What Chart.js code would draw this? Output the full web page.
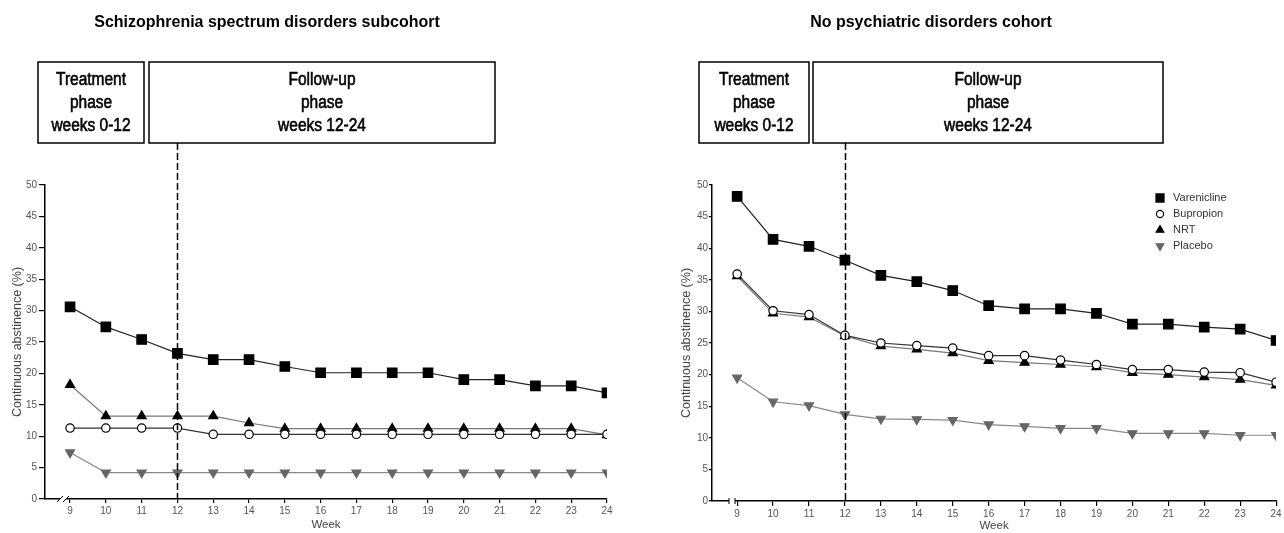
<!DOCTYPE html>
<html>
<head>
<meta charset="utf-8">
<script src="https://cdn.jsdelivr.net/npm/chart.js@4.4.1/dist/chart.umd.min.js"></script>
<style>
    body { margin:0; background:#fff; }
    #wrap { position:relative; width:1284px; height:533px; }
    canvas { position:absolute; top:0; }
</style>
</head>
<body>
<div id="wrap">
    <canvas id="chartSchizo" width="642" height="533" style="left:0"></canvas>
    <canvas id="chartNoPsych" width="642" height="533" style="left:642px"></canvas>
</div>
<script>
// weeks on the x axis
var weeks       =   [9, 10, 11, 12, 13, 14, 15, 16, 17, 18, 19, 20, 21, 22, 23, 24];
var yTicks      =   [0, 5, 10, 15, 20, 25, 30, 35, 40, 45, 50];
var seriesNames =   ['Varenicline', 'Bupropion', 'NRT', 'Placebo'];

// schizophrenia spectrum disorders subcohort
var schizoVarenicline   =   [30.6, 27.4, 25.4, 23.2, 22.2, 22.2, 21.1, 20.1, 20.1, 20.1, 20.1, 19.0, 19.0, 18.0, 18.0, 16.9];
var schizoBupropion     =   [11.3, 11.3, 11.3, 11.3, 10.3, 10.3, 10.3, 10.3, 10.3, 10.3, 10.3, 10.3, 10.3, 10.3, 10.3, 10.3];
var schizoNRT           =   [18.2, 13.2, 13.2, 13.2, 13.2, 12.1, 11.2, 11.2, 11.2, 11.2, 11.2, 11.2, 11.2, 11.2, 11.2, 10.2];
var schizoPlacebo       =   [7.4, 4.2, 4.2, 4.2, 4.2, 4.2, 4.2, 4.2, 4.2, 4.2, 4.2, 4.2, 4.2, 4.2, 4.2, 4.2];

// no psychiatric disorders cohort
var noPsychVarenicline  =   [48.2, 41.4, 40.3, 38.1, 35.7, 34.7, 33.3, 30.9, 30.4, 30.4, 29.7, 28.0, 28.0, 27.5, 27.2, 25.4];
var noPsychBupropion    =   [35.9, 30.1, 29.5, 26.2, 25.0, 24.6, 24.2, 23.0, 23.0, 22.3, 21.6, 20.8, 20.8, 20.4, 20.3, 18.8];
var noPsychNRT          =   [35.6, 29.7, 29.1, 26.1, 24.5, 24.0, 23.4, 22.2, 21.9, 21.6, 21.2, 20.3, 20.0, 19.6, 19.2, 18.3];
var noPsychPlacebo      =   [19.5, 15.7, 15.1, 13.7, 13.0, 12.9, 12.8, 12.1, 11.8, 11.5, 11.5, 10.7, 10.7, 10.7, 10.4, 10.4];

var SANS    =   '"Liberation Sans", Arial, sans-serif';

// marker look per series
var styles = [
    { pointStyle:'rect',     radius:6.7, fill:'#000', stroke:'#000', line:'#222', rot:0 },
    { pointStyle:'circle',   radius:4.2, fill:'#fff', stroke:'#000', line:'#333', rot:0 },
    { pointStyle:'triangle', radius:5.2, fill:'#000', stroke:'#000', line:'#777', rot:0 },
    { pointStyle:'triangle', radius:5.2, fill:'#666', stroke:'#666', line:'#888', rot:180 }
];

function makeDatasets(series) {
    return series.map(function (vals, k) {
        var st = styles[k];
        return {
            label               :   seriesNames[k],
            data                :   weeks.map((w, i) => ({ x: w, y: vals[i] })),
            borderColor         :   st.line,
            borderWidth         :   1.2,
            pointStyle          :   st.pointStyle,
            pointRadius         :   st.radius,
            pointHoverRadius    :   st.radius,
            pointRotation       :   st.rot,
            pointBackgroundColor:   st.fill,
            pointBorderColor    :   st.stroke,
            pointBorderWidth    :   1.2,
            tension             :   0
        };
    });
}

// condensed text (no narrow font installed, so squeeze horizontally)
function narrowText(ctx, text, x, y, sx, thick) {
    ctx.save();
    ctx.translate(x, y);
    ctx.scale(sx, 1);
    ctx.fillText(text, 0, 0);
    if (thick) {
        ctx.lineWidth = thick;
        ctx.strokeText(text, 0, 0);
    }
    ctx.restore();
}

var decorPlugin = {
    id: 'decor',
    beforeDraw(chart, args, o) {
        var ctx = chart.ctx;
        ctx.save();
        ctx.fillStyle = '#000';
        ctx.textAlign = 'center';
        ctx.textBaseline = 'middle';
        ctx.font = 'bold 17px ' + SANS;
        narrowText(ctx, o.title, o.titleX, 22, 0.94, 0);

        ctx.strokeStyle = '#000';
        ctx.lineWidth = 1.5;
        o.boxes.forEach(function (b) {
            ctx.strokeRect(b.x0, 62, b.x1 - b.x0, 81);
        });
        ctx.font = '18px ' + SANS;
        o.boxes.forEach(function (b) {
            var cx = (b.x0 + b.x1) / 2;
            b.lines.forEach(function (t, i) {
                narrowText(ctx, t, cx, 80 + i * 23, 0.86, 0.6);
            });
        });
        ctx.restore();
    },
    afterDatasetsDraw(chart, args, o) {
        var ctx = chart.ctx;
        var xs = chart.scales.x;
        var area = chart.chartArea;
        ctx.save();

        // phase divider
        var px = Math.round(xs.getPixelForValue(12)) + 0.5;
        ctx.strokeStyle = '#000';
        ctx.lineWidth = 1.5;
        ctx.setLineDash([7, 3]);
        ctx.beginPath();
        ctx.moveTo(px, 143);
        ctx.lineTo(px, area.bottom);
        ctx.stroke();
        ctx.setLineDash([]);

        // axis break
        var bx = area.left + o.breakAt;
        ctx.fillStyle = '#fff';
        ctx.fillRect(bx, area.bottom - 3, 6, 6);
        ctx.strokeStyle = '#000';
        ctx.lineWidth = 1;
        ctx.beginPath();
        if (o.breakSlash) {
            ctx.moveTo(bx - 3, area.bottom + 3); ctx.lineTo(bx + 3, area.bottom - 3);
            ctx.moveTo(bx + 3, area.bottom + 3); ctx.lineTo(bx + 9, area.bottom - 3);
        } else {
            ctx.moveTo(bx, area.bottom - 3); ctx.lineTo(bx, area.bottom + 3);
            ctx.moveTo(bx + 6, area.bottom - 3); ctx.lineTo(bx + 6, area.bottom + 3);
        }
        ctx.stroke();

        // legend
        if (o.legend) {
            ctx.font = '11px ' + SANS;
            ctx.textAlign = 'left';
            ctx.textBaseline = 'middle';
            seriesNames.forEach(function (name, k) {
                var st = styles[k];
                var y = o.legendY + k * 16;
                ctx.fillStyle = st.fill;
                ctx.strokeStyle = st.stroke;
                ctx.lineWidth = 1.2;
                Chart.helpers.drawPoint(ctx, {
                    pointStyle: st.pointStyle,
                    radius: st.radius * 0.85,
                    rotation: st.rot,
                    borderWidth: 1.2
                }, o.legendX, y);
                ctx.fillStyle = '#333';
                ctx.fillText(name, o.legendX + 13, y);
            });
        }
        ctx.restore();
    }
};

function createChart(id, series, cfg) {
    var el = document.getElementById(id).getContext('2d');
    return new Chart(el, {
        type: 'line',
        data: { datasets: makeDatasets(series) },
        plugins: [decorPlugin],
        options: {
            responsive: false,
            animation: false,
            devicePixelRatio: 1,
            layout: { padding: { top: 185, right: cfg.padRight, bottom: 0, left: 0 } },
            plugins: {
                legend: { display: false },
                tooltip: { enabled: false },
                decor: cfg.decor
            },
            scales: {
                x: {
                    type: 'linear',
                    min: 8.3,
                    max: 24,
                    afterBuildTicks: s => { s.ticks = weeks.map(v => ({ value: v })); },
                    afterFit: s => { s.height = cfg.xHeight; },
                    border: { display: true, color: '#000', width: 1.5 },
                    grid: { drawOnChartArea: false, drawTicks: true, tickLength: cfg.xTick, color: '#000', lineWidth: 1.2 },
                    ticks: { color: '#555', font: { family: SANS, size: 10 }, padding: 2, autoSkip: false, maxRotation: 0 },
                    title: { display: true, text: 'Week', color: '#444', font: { family: SANS, size: 11.5 }, padding: { top: 0, bottom: cfg.weekPad } }
                },
                y: {
                    min: 0,
                    max: 50,
                    afterBuildTicks: s => { s.ticks = yTicks.map(v => ({ value: v })); },
                    afterFit: s => { s.width = cfg.yWidth; },
                    border: { display: true, color: '#000', width: 1.5 },
                    grid: { drawOnChartArea: false, drawTicks: true, tickLength: cfg.yTick, color: '#000', lineWidth: 1.2 },
                    ticks: { color: '#555', font: { family: SANS, size: 10 }, padding: cfg.yPad },
                    title: { display: true, text: 'Continuous abstinence (%)', color: '#444', font: { family: SANS, size: 12.5 }, padding: { top: cfg.yTitlePad, bottom: 0 } }
                }
            }
        }
    });
}

createChart('chartSchizo',
    [schizoVarenicline, schizoBupropion, schizoNRT, schizoPlacebo],
    {
        padRight: 35, xHeight: 34, xTick: 4, weekPad: 1, yWidth: 45, yTick: 6, yPad: 2, yTitlePad: 10,
        decor: {
            title: 'Schizophrenia spectrum disorders subcohort', titleX: 267,
            boxes: [
                { x0: 38, x1: 144, lines: ['Treatment', 'phase', 'weeks 0-12'] },
                { x0: 149, x1: 495, lines: ['Follow-up', 'phase', 'weeks 12-24'] }
            ],
            breakAt: 15, breakSlash: true, legend: false
        }
    });

createChart('chartNoPsych',
    [noPsychVarenicline, noPsychBupropion, noPsychNRT, noPsychPlacebo],
    {
        padRight: 0, xHeight: 32, xTick: 5, weekPad: 0, yWidth: 70, yTick: 3, yPad: 1, yTitlePad: 37,
        decor: {
            title: 'No psychiatric disorders cohort', titleX: 289,
            boxes: [
                { x0: 57, x1: 167, lines: ['Treatment', 'phase', 'weeks 0-12'] },
                { x0: 171, x1: 521, lines: ['Follow-up', 'phase', 'weeks 12-24'] }
            ],
            breakAt: 17, breakSlash: false, legend: true, legendX: 518, legendY: 198
        }
    });
</script>
</body>
</html>
